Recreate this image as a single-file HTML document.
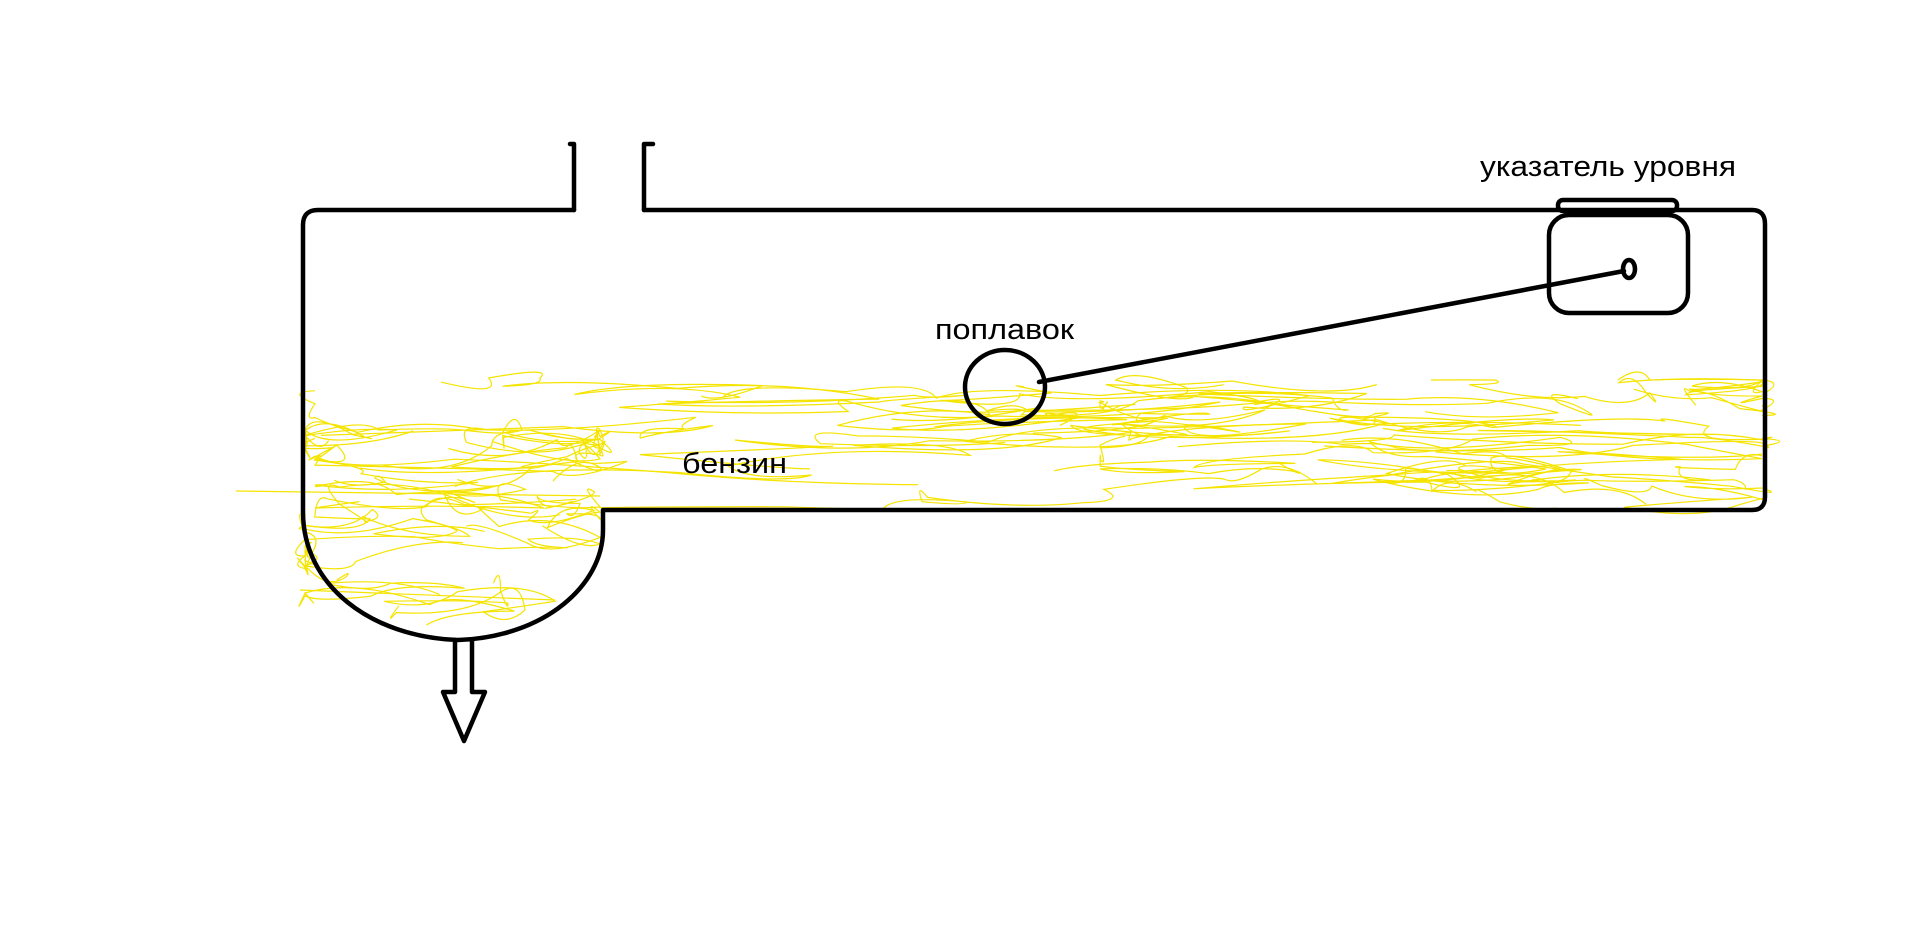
<!DOCTYPE html>
<html><head><meta charset="utf-8">
<style>html,body{margin:0;padding:0;background:#fff;}svg{display:block;}</style>
</head><body>
<svg id="s" width="1914" height="935" viewBox="0 0 1914 935" xmlns="http://www.w3.org/2000/svg">
<g id="y" fill="none" stroke="#f5e400" stroke-width="1.2"></g>
<g fill="none" stroke="#000" stroke-width="4.5" stroke-linejoin="round" stroke-linecap="round">
  <path d="M574,210 L318,210 Q303,210 303,225 L303,512 C303,585 370,637 458,640 C545,637 603,585 603,530 L603,510 L1752,510 Q1765,510 1765,497 L1765,224 Q1765,210 1752,210 L644,210"/>
  <path d="M574,210 L574,144 L570,144"/>
  <path d="M644,210 L644,144 L653,144"/>
  <rect x="1549" y="215" width="139" height="98" rx="20"/>
  <rect x="1558" y="200" width="119" height="11" rx="5"/>
  <ellipse cx="1629" cy="269" rx="6" ry="9"/>
  <ellipse cx="1005" cy="387" rx="40" ry="37"/>
  <line x1="1039" y1="382" x2="1624" y2="271"/>
  <path d="M455,640 L455,692 L443,692 L464,741 L485,692 L472,692 L472,640"/>
</g>
<g font-family="Liberation Sans, DejaVu Sans, sans-serif" font-size="29" fill="#000">
  <text x="1480" y="176" textLength="256" lengthAdjust="spacingAndGlyphs">указатель уровня</text>
  <text x="935" y="339" textLength="139" lengthAdjust="spacingAndGlyphs">поплавок</text>
  <text x="682" y="473" textLength="105" lengthAdjust="spacingAndGlyphs">бензин</text>
</g>
</svg>
<script>
(function(){
var seed=12345;function r(){seed=(seed*16807)%2147483647;return (seed-1)/2147483646;}
var g=document.getElementById('y');var ns='http://www.w3.org/2000/svg';
function scrib(x0,x1,y0,y1,n,seg,dx,dy){
 for(var i=0;i<n;i++){
  var x=x0+r()*(x1-x0),y=y0+r()*(y1-y0),d='M'+x.toFixed(1)+','+y.toFixed(1);
  for(var k=0;k<seg;k++){
   var nx=x+(r()-0.5)*dx, ny=y+(r()-0.5)*dy;
   nx=Math.max(x0,Math.min(x1,nx)); ny=Math.max(y0,Math.min(y1,ny));
   var cx=(x+nx)/2+(r()-0.5)*dx*0.2, cy=(y+ny)/2+(r()-0.5)*dy*1.2;
   d+=' Q'+cx.toFixed(1)+','+cy.toFixed(1)+' '+nx.toFixed(1)+','+ny.toFixed(1);
   x=nx;y=ny;
  }
  var p=document.createElementNS(ns,'path');p.setAttribute('d',d);g.appendChild(p);
 }
}
scrib(315,1762,378,508,22,10,500,30);
scrib(1100,1762,380,508,8,8,300,30);
scrib(305,600,430,625,14,10,250,40);
var p=document.createElementNS(ns,'path');p.setAttribute('d','M236,491 L600,496 M300,590 L555,600');g.appendChild(p);
})();
</script>
</body></html>
